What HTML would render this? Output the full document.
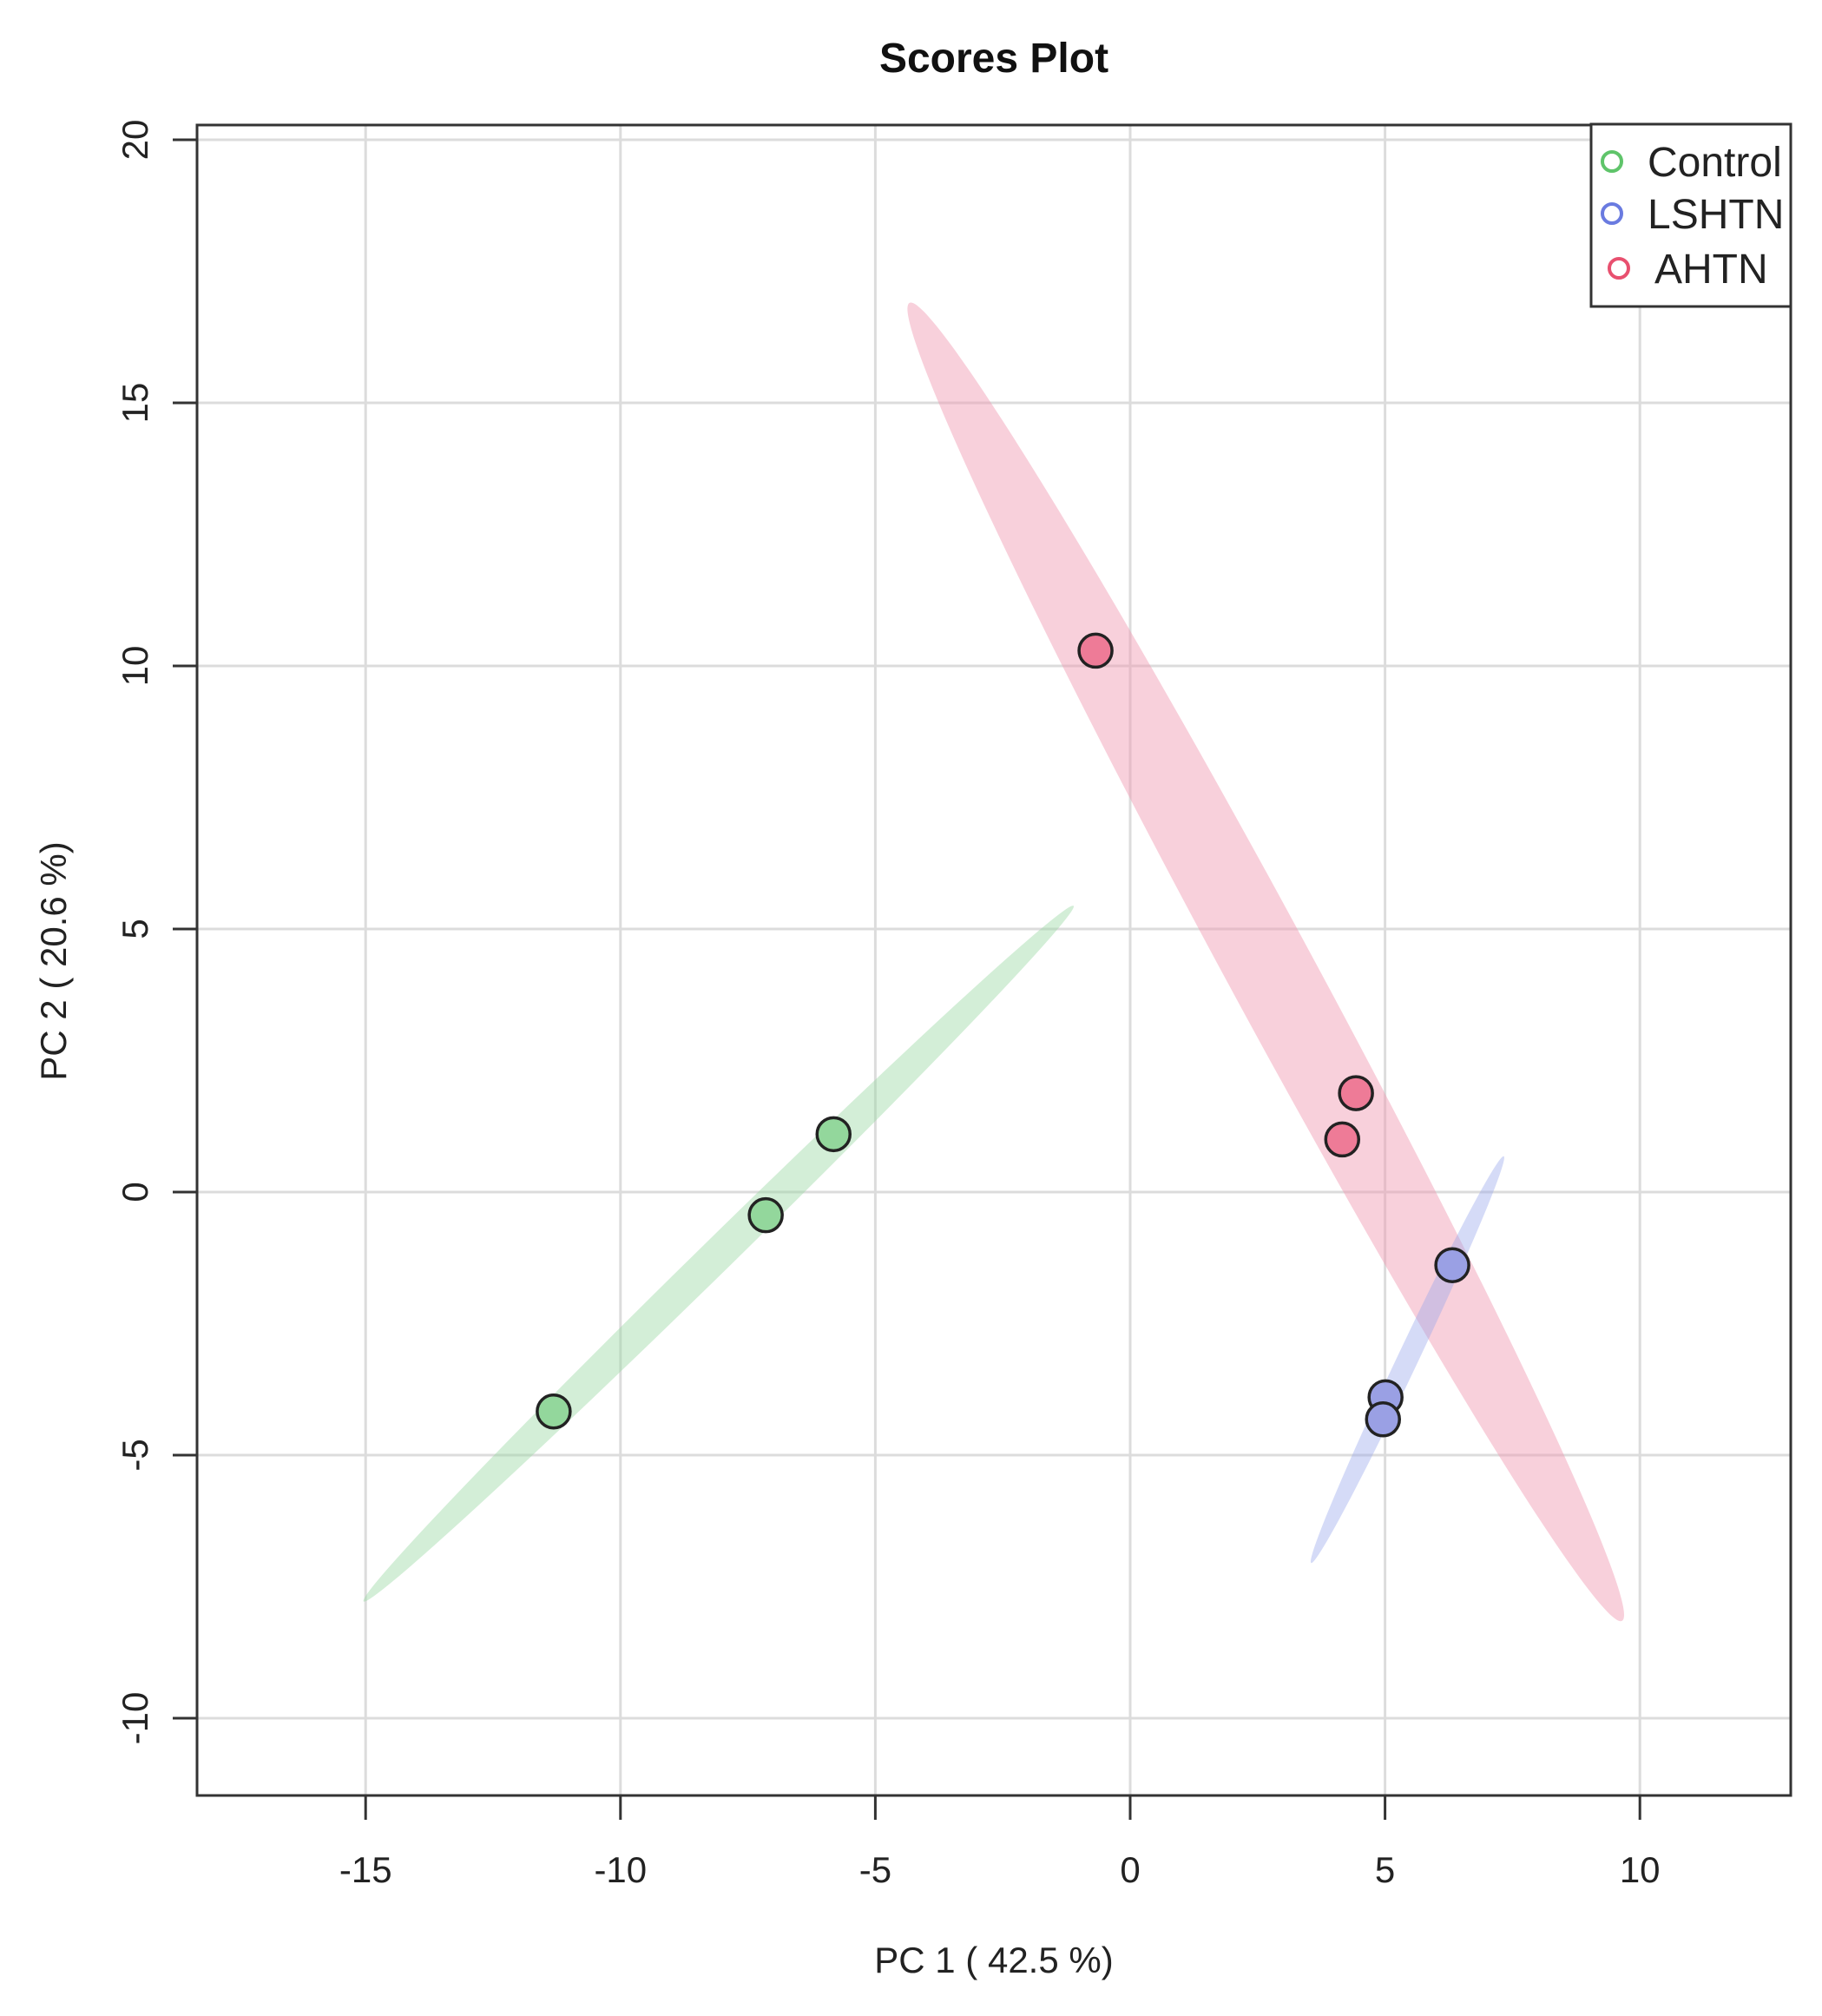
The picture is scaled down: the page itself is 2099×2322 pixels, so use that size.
<!DOCTYPE html>
<html><head><meta charset="utf-8">
<style>
html,body{margin:0;padding:0;background:#fff;}
svg{display:block;font-family:"Liberation Sans",Arial,sans-serif;}
</style></head>
<body>
<svg id="chart" width="2099" height="2322" viewBox="0 0 2099 2322" xmlns="http://www.w3.org/2000/svg">
<text x="1145" y="83" text-anchor="middle" font-size="48" font-weight="bold" fill="#111">Scores Plot</text>
<g id="grid"></g>
<g id="ellipses"></g>
<g id="points"></g>
<g id="axes"></g>
<text x="1145" y="2272" text-anchor="middle" font-size="42" fill="#222">PC 1 ( 42.5 %)</text>
<text transform="translate(76,1107) rotate(-90)" text-anchor="middle" font-size="42" fill="#222">PC 2 ( 20.6 %)</text>
<g>
<rect x="1833" y="143" width="230" height="210" fill="#fff" stroke="#333" stroke-width="3"/>
<g><circle cx="1857" cy="186" r="11" fill="none" stroke="#5fc46a" stroke-width="4"/><text x="1898" y="203" font-size="48" fill="#222">Control</text></g>
<g><circle cx="1857" cy="246" r="11" fill="none" stroke="#6a7be0" stroke-width="4"/><text x="1898" y="263" font-size="48" fill="#222">LSHTN</text></g>
<g><circle cx="1865" cy="309" r="11" fill="none" stroke="#e8506f" stroke-width="4"/><text x="1906" y="326" font-size="48" fill="#222">AHTN</text></g>
</g>
</svg>
<script>
const xTicks = [-15, -10, -5, 0, 5, 10];
const yTicks = [-10, -5, 0, 5, 10, 15, 20];
const controlX = [-11.31, -7.15, -5.82];
const controlY = [-4.17, -0.44, 1.10];
const lshtnX = [6.32, 5.01, 4.96];
const lshtnY = [-1.39, -3.90, -4.32];
const ahtnX = [-0.68, 4.43, 4.16];
const ahtnY = [10.29, 1.88, 1.00];
// ellipse endpoints of major axis (data units)
const controlEllipse = [-15.04, -7.78, -1.11, 5.44];
const lshtnEllipse = [3.55, -7.05, 7.33, 0.68];
const ahtnEllipse = [-4.33, 16.9, 9.65, -8.15];

const X0 = 1302, XS = 58.72, Y0 = 1373, YS = 60.6;
const L = 227, R = 2063, T = 144, B = 2068;
function sx(v){ return X0 + v * XS; }
function sy(v){ return Y0 - v * YS; }
const NS = 'http://www.w3.org/2000/svg';
function mk(tag, attrs, parent){
  const e = document.createElementNS(NS, tag);
  for (const k in attrs) e.setAttribute(k, attrs[k]);
  parent.appendChild(e);
  return e;
}
const grid = document.getElementById('grid');
const axes = document.getElementById('axes');
xTicks.forEach(t => {
  const g = mk('line', {x1: sx(t), x2: sx(t), y1: T, y2: B, stroke: '#dcdcdc', 'stroke-width': 3}, grid);
  
  
  const tk = mk('line', {x1: sx(t), x2: sx(t), y1: B, y2: B + 28, stroke: '#333', 'stroke-width': 3}, axes);
  
  
  const lb = mk('text', {x: sx(t), y: 2168, 'text-anchor': 'middle', 'font-size': 42, fill: '#222'}, axes);
  lb.textContent = String(t);
  
  
});
yTicks.forEach(t => {
  const g = mk('line', {x1: L, x2: R, y1: sy(t), y2: sy(t), stroke: '#dcdcdc', 'stroke-width': 3}, grid);
  
  
  const tk = mk('line', {x1: L - 28, x2: L, y1: sy(t), y2: sy(t), stroke: '#333', 'stroke-width': 3}, axes);
  
  
  const lb = mk('text', {transform: 'translate(170,' + sy(t) + ') rotate(-90)', 'text-anchor': 'middle', 'font-size': 42, fill: '#222'}, axes);
  lb.textContent = String(t);
  
  
});
const frame = mk('rect', {x: L, y: T, width: R - L, height: B - T, fill: 'none', stroke: '#333', 'stroke-width': 3}, axes);



const ell = document.getElementById('ellipses');
function drawEllipse(e, half, fill, name){
  const x1 = sx(e[0]), y1 = sy(e[1]), x2 = sx(e[2]), y2 = sy(e[3]);
  const cx = (x1 + x2) / 2, cy = (y1 + y2) / 2;
  const len = Math.hypot(x2 - x1, y2 - y1) / 2;
  const ang = Math.atan2(y2 - y1, x2 - x1) * 180 / Math.PI;
  const el = mk('ellipse', {cx: cx, cy: cy, rx: len, ry: half, fill: fill, transform: 'rotate(' + ang + ' ' + cx + ' ' + cy + ')'}, ell);
  
  
}
drawEllipse(controlEllipse, 19, 'rgba(150,215,160,0.42)', 'control-ellipse');
drawEllipse(ahtnEllipse, 50, 'rgba(240,150,175,0.45)', 'ahtn-ellipse');
drawEllipse(lshtnEllipse, 12, 'rgba(150,165,235,0.4)', 'lshtn-ellipse');

const pts = document.getElementById('points');
function drawPts(xs, ys, fill, name){
  xs.forEach((v, i) => {
    const c = mk('circle', {cx: sx(v), cy: sy(ys[i]), r: 19, fill: fill, stroke: '#222', 'stroke-width': 3.5}, pts);
    
    
  });
}
drawPts(controlX, controlY, '#93d79c', 'control-point');
drawPts(ahtnX, ahtnY, '#ee7b97', 'ahtn-point');
drawPts(lshtnX, lshtnY, '#9aa0e4', 'lshtn-point');
</script>
</body></html>
